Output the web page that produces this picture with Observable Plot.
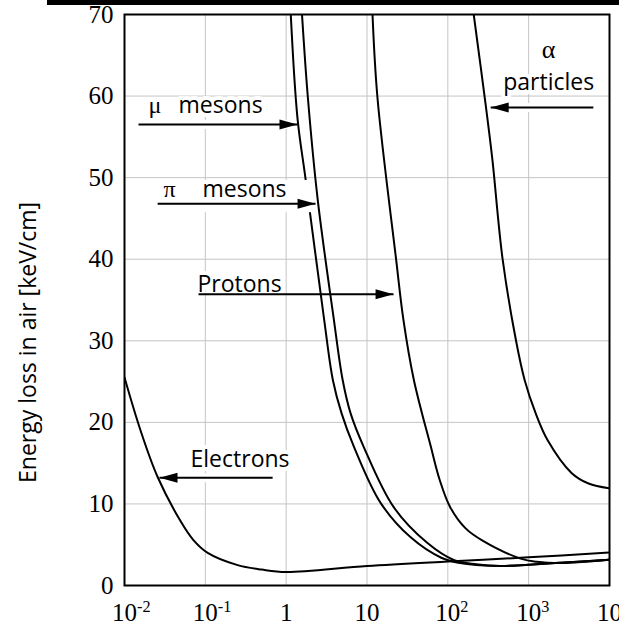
<!DOCTYPE html>
<html><head><meta charset="utf-8">
<script src="https://cdn.jsdelivr.net/npm/d3@7"></script>
<script src="https://cdn.jsdelivr.net/npm/@observablehq/plot@0.6"></script>
<style>
body{margin:0;background:#fff;}
#wrap{position:relative;width:619px;height:625px;overflow:hidden;background:#fff;}
#bar{position:absolute;left:47px;top:0;width:572px;height:5px;background:#000;}
#wrap svg{display:block;}
</style></head><body><div id="wrap"><div id="bar"></div></div>
<script>
// Kinetic energy [MeV] and energy loss in air [keV/cm]
const electronE    = [0.01, 0.0158, 0.0257, 0.0493, 0.0708, 0.107, 0.251, 0.5, 1, 10, 100, 1000, 10000];
const electronLoss = [25.5, 19, 13.3, 7.9, 5.6, 4.0, 2.5, 1.95, 1.65, 2.4, 2.95, 3.45, 4.06];

const muonE    = [1.14, 1.38, 1.74, 2.95, 3.78, 4.85, 6.9, 14.8, 34.7, 83, 135, 282, 500, 1000, 3160, 10000];
const muonLoss = [70, 57.3, 49.8, 32.6, 25.2, 21.1, 17, 10.1, 5.9, 3.4, 2.8, 2.45, 2.4, 2.55, 2.85, 3.15];

const pionE    = [1.57, 1.86, 2.45, 3.89, 5.0, 6.27, 9.1, 21.4, 56, 120, 224, 447, 1000, 3160, 10000];
const pionLoss = [70, 59.7, 47.4, 32.6, 25.2, 21.1, 17, 9.6, 5.2, 3.1, 2.6, 2.4, 2.55, 2.85, 3.15];

const protonE    = [11.7, 13.5, 22.9, 28.2, 38, 61.7, 79, 107, 166, 269, 794, 1260, 2510, 5010, 10000];
const protonLoss = [70, 59.7, 40, 32.6, 25.2, 17, 13, 9.6, 7, 5.5, 3.3, 2.9, 2.75, 2.9, 3.15];

const alphaE    = [209, 295, 355, 476, 698, 891, 1222, 1718, 3390, 5500, 10000];
const alphaLoss = [70, 58.8, 52.3, 40, 30, 25.2, 21.1, 17.8, 13.8, 12.5, 11.9];

// axes
const xTicks = [0.01, 0.1, 1, 10, 100, 1000, 10000];
const xTickLabels = ["10^-2", "10^-1", "1", "10", "10^2", "10^3", "10^4"];
const yTicks = [0, 10, 20, 30, 40, 50, 60, 70];
const yLabel = "Energy loss in air [keV/cm]";

// annotations (left-aligned words)
const wordText = ["mesons", "mesons", "Protons", "Electrons"];
const wordX    = [0.0466, 0.0922, 0.080, 0.0656];
const wordY    = [57.9, 47.6, 36.0, 14.5];
// centred words
const centerText = ["particles"];
const centerX    = [1770];
const centerY    = [60.7];
// greek symbols
const greekText = ["\u03bc", "\u03c0"];
const greekX    = [0.0198, 0.0304];
const greekY    = [57.9, 47.6];
const alphaText = ["\u03b1"];
const alphaX    = [1766];
const alphaY    = [64.7];
// arrows: tail energy, tip energy, level
const arrowFrom = [0.0149, 0.0257, 0.0824, 0.68, 6310];
const arrowTo   = [1.38, 2.31, 21.3, 0.0271, 339];
const arrowY    = [56.5, 46.8, 35.7, 13.2, 58.6];
// white label box of the pi-meson annotation (it interrupts the mu-meson curve)
const boxX = [0.0257, 2.18];
const boxY = [45.7, 49.65];

const table = (E, L) => E.map((e, i) => ({E: e, loss: L[i]}));
const series = [table(electronE, electronLoss), table(muonE, muonLoss), table(pionE, pionLoss), table(protonE, protonLoss), table(alphaE, alphaLoss)];
const words = wordText.map((t, i) => ({t, x: wordX[i], y: wordY[i]}));
const centered = centerText.map((t, i) => ({t, x: centerX[i], y: centerY[i]}));
const greek = greekText.map((t, i) => ({t, x: greekX[i], y: greekY[i]}));
const alphaSym = alphaText.map((t, i) => ({t, x: alphaX[i], y: alphaY[i]}));
const arrows = arrowFrom.map((x1, i) => ({x1, x2: arrowTo[i], y: arrowY[i], right: arrowTo[i] > x1}));
const boxes = [{x1: boxX[0], x2: boxX[1], y1: boxY[0], y2: boxY[1]}];

const headRight = {draw(c){ c.moveTo(0,0); c.lineTo(-18,-5); c.lineTo(-18,5); c.closePath(); }};
const headLeft  = {draw(c){ c.moveTo(0,0); c.lineTo(18,-5); c.lineTo(18,5); c.closePath(); }};

const sans = "'Open Sans', sans-serif";
const serif = "'Liberation Serif', serif";
const gridColor = "#c4c4c4";
const fs = 23;

const chart = Plot.plot({
  width: 619, height: 625,
  marginLeft: 124, marginRight: 10, marginTop: 14, marginBottom: 40,
  style: {fontFamily: serif, fontSize: "25px", color: "#000", background: "#fff"},
  x: {type: "log", domain: [0.01, 10000]},
  y: {domain: [0, 70]},
  marks: [
    Plot.gridX(xTicks.slice(1, -1), {stroke: gridColor, strokeOpacity: 1, strokeWidth: 1}),
    Plot.gridY(yTicks.slice(1, -1), {stroke: gridColor, strokeOpacity: 1, strokeWidth: 1}),
    // white halos behind the annotations (they interrupt the grid)
    Plot.link(arrows.filter((d, i) => i !== 2), {x1: "x1", x2: "x2", y1: "y", y2: "y", stroke: "white", strokeWidth: 9}),
    Plot.text(words, {x: "x", y: "y", text: "t", textAnchor: "start", lineAnchor: "bottom", fontFamily: sans, fontSize: fs, fill: "white", stroke: "white", strokeWidth: 8}),
    Plot.text(centered, {x: "x", y: "y", text: "t", textAnchor: "middle", lineAnchor: "bottom", fontFamily: sans, fontSize: fs, fill: "white", stroke: "white", strokeWidth: 8}),
    ...series.map(s => Plot.line(s, {x: "E", y: "loss", curve: "catmull-rom", stroke: "black", strokeWidth: 2, clip: true})),
    Plot.rect(boxes, {x1: "x1", x2: "x2", y1: "y1", y2: "y2", fill: "white"}),
    Plot.link(arrows, {x1: "x1", x2: "x2", y1: "y", y2: "y", stroke: "black", strokeWidth: 2}),
    Plot.dot(arrows.filter(d => d.right), {x: "x2", y: "y", symbol: headRight, fill: "black", stroke: null, r: 5}),
    Plot.dot(arrows.filter(d => !d.right), {x: "x2", y: "y", symbol: headLeft, fill: "black", stroke: null, r: 5}),
    Plot.text(words, {x: "x", y: "y", text: "t", textAnchor: "start", lineAnchor: "bottom", fontFamily: sans, fontSize: fs, fill: "black"}),
    Plot.text(centered, {x: "x", y: "y", text: "t", textAnchor: "middle", lineAnchor: "bottom", fontFamily: sans, fontSize: fs, fill: "black"}),
    Plot.text(greek, {x: "x", y: "y", text: "t", textAnchor: "start", lineAnchor: "bottom", fontFamily: serif, fontSize: 24, fill: "black"}),
    Plot.text(alphaSym, {x: "x", y: "y", text: "t", textAnchor: "middle", lineAnchor: "bottom", fontFamily: serif, fontSize: 26, fill: "black"}),
    Plot.text([yLabel], {frameAnchor: "left", y: [29.8], text: d => d, textAnchor: "middle", lineAnchor: "middle", rotate: -90, dx: -96, fontFamily: sans, fontSize: 23, fill: "black"}),
    Plot.axisX(xTicks, {anchor: "bottom", tickSize: 0, tickPadding: 18, tickFormat: d => xTickLabels[xTicks.indexOf(d)], label: null, fontSize: 25}),
    Plot.axisY(yTicks, {anchor: "left", tickSize: 0, tickPadding: 11, label: null, fontSize: 25}),
    Plot.frame({stroke: "black", strokeWidth: 2})
  ]
});
document.getElementById("wrap").prepend(chart);

// superscript exponents on the x tick labels
d3.select(chart).selectAll("text").each(function() {
  const s = this.textContent;
  const m = /^10\^(-?\d)$/.exec(s);
  if (m) {
    const t = d3.select(this);
    t.text("10").attr("text-anchor", "start").attr("dx", "-12.5");
    t.append("tspan").attr("dy", "-0.55em").attr("font-size", "0.65em").text(m[1]);
  }
});
</script>
</body></html>
